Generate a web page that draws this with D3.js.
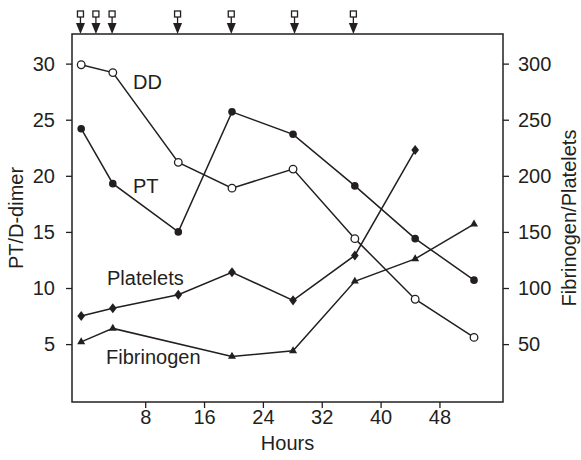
<!DOCTYPE html>
<html>
<head>
<meta charset="UTF-8">
<script src="https://d3js.org/d3.v7.min.js"></script>
<style>
  html, body { margin: 0; padding: 0; background: #fff; }
  svg { display: block; }
  text { font-family: "Liberation Sans", Arial, sans-serif; fill: #231f20; }
</style>
</head>
<body>
<svg width="581" height="460"></svg>
<script>
// hours
const hours = [-0.7, 3.6, 12.5, 19.8, 28.1, 36.5, 44.7, 52.7];
const ddValues = [29.9, 29.2, 21.2, 18.9, 20.6, 14.4, 9.0, 5.6];
const ptValues = [24.2, 19.3, 15.0, 25.7, 23.7, 19.1, 14.4, 10.7];
const plateletHours = [-0.7, 3.6, 12.5, 19.8, 28.1, 36.5, 44.7];
const plateletValues = [75, 82, 94, 114, 89, 129, 223];
const fibrinogenHours = [-0.7, 3.6, 19.8, 28.1, 36.5, 44.7, 52.7];
const fibrinogenValues = [52, 64, 39, 44, 106, 126, 157];
const doseHours = [-0.8, 1.3, 3.5, 12.4, 19.7, 28.3, 36.3];

const xTicks = [8, 16, 24, 32, 40, 48];
const leftTicks = [5, 10, 15, 20, 25, 30];
const rightTicks = [50, 100, 150, 200, 250, 300];

const ink = "#231f20";
const svg = d3.select("svg");
const plotL = 72, plotR = 503, plotT = 34, plotB = 402;

const x = d3.scaleLinear().domain([-1.95, 56.64]).range([plotL, plotR]);
const yL = d3.scaleLinear().domain([-0.16, 32.64]).range([plotB, plotT]);
const yR = d3.scaleLinear().domain([-1.6, 326.4]).range([plotB, plotT]);

// frame
svg.append("rect")
  .attr("x", plotL).attr("y", plotT)
  .attr("width", plotR - plotL).attr("height", plotB - plotT)
  .attr("fill", "none").attr("stroke", ink).attr("stroke-width", 1.5);

// axes
function styleAxis(g) {
  g.select(".domain").remove();
  g.selectAll(".tick line").attr("stroke", ink).attr("stroke-width", 1.3);
  g.selectAll(".tick text").style("font-size", "20px").attr("fill", ink)
    .style("font-family", "'Liberation Sans', Arial, sans-serif");
}

svg.append("g")
  .attr("transform", `translate(0,${plotB})`)
  .call(d3.axisBottom(x).tickValues(xTicks).tickSize(6).tickPadding(2))
  .call(styleAxis);

svg.append("g")
  .attr("transform", `translate(${plotL},0)`)
  .call(d3.axisLeft(yL).tickValues(leftTicks).tickSize(6).tickPadding(11))
  .call(styleAxis);

svg.append("g")
  .attr("transform", `translate(${plotR},0)`)
  .call(d3.axisRight(yR).tickValues(rightTicks).tickSize(6).tickPadding(9))
  .call(styleAxis);

// axis titles
svg.append("text").attr("x", (plotL + plotR) / 2).attr("y", 450)
  .attr("text-anchor", "middle").style("font-size", "20px").text("Hours");
svg.append("text")
  .attr("transform", `translate(23,${(plotT + plotB) / 2}) rotate(-90)`)
  .attr("text-anchor", "middle").style("font-size", "20px").text("PT/D-dimer");
svg.append("text")
  .attr("transform", `translate(576,${(plotT + plotB) / 2}) rotate(-90)`)
  .attr("text-anchor", "middle").style("font-size", "20px").text("Fibrinogen/Platelets");

// series
const line = d3.line();
function drawSeries(xs, vs, yScale, marker) {
  const pts = xs.map((h, i) => [x(h), yScale(vs[i])]);
  svg.append("path").attr("d", line(pts))
    .attr("fill", "none").attr("stroke", ink).attr("stroke-width", 1.5);
  const g = svg.append("g");
  pts.forEach(p => marker(g, p));
}

const openCircle = (g, p) => g.append("circle").attr("cx", p[0]).attr("cy", p[1]).attr("r", 3.8)
  .attr("fill", "#fff").attr("stroke", ink).attr("stroke-width", 1.3);
const dot = (g, p) => g.append("circle").attr("cx", p[0]).attr("cy", p[1]).attr("r", 3.8).attr("fill", ink);
const diamond = (g, p) => g.append("path")
  .attr("d", d3.symbol(d3.symbolDiamond, 36)()).attr("transform", `translate(${p[0]},${p[1]}) scale(1.2,0.9)`).attr("fill", ink);
const tri = (g, p) => g.append("path")
  .attr("d", d3.symbol(d3.symbolTriangle, 28)()).attr("transform", `translate(${p[0]},${p[1]})`).attr("fill", ink);

drawSeries(hours, ddValues, yL, openCircle);
drawSeries(hours, ptValues, yL, dot);
drawSeries(plateletHours, plateletValues, yR, diamond);
drawSeries(fibrinogenHours, fibrinogenValues, yR, tri);

// series labels
const labels = [["DD", 133, 89], ["PT", 133, 193], ["Platelets", 107, 285], ["Fibrinogen", 106, 364]];
labels.forEach(l => svg.append("text").attr("x", l[1]).attr("y", l[2]).style("font-size", "20px").text(l[0]));

// dosing arrows along the top
const arrows = svg.append("g");
doseHours.forEach(h => {
  const cx = x(h);
  arrows.append("rect").attr("x", cx - 3).attr("y", 11).attr("width", 6).attr("height", 6)
    .attr("fill", "#fff").attr("stroke", ink).attr("stroke-width", 1.3);
  arrows.append("line").attr("x1", cx).attr("x2", cx).attr("y1", 17).attr("y2", 24)
    .attr("stroke", ink).attr("stroke-width", 1.3);
  arrows.append("path").attr("d", `M${cx - 4.5},23 L${cx + 4.5},23 L${cx},${plotT} Z`).attr("fill", ink);
});
</script>
</body>
</html>
